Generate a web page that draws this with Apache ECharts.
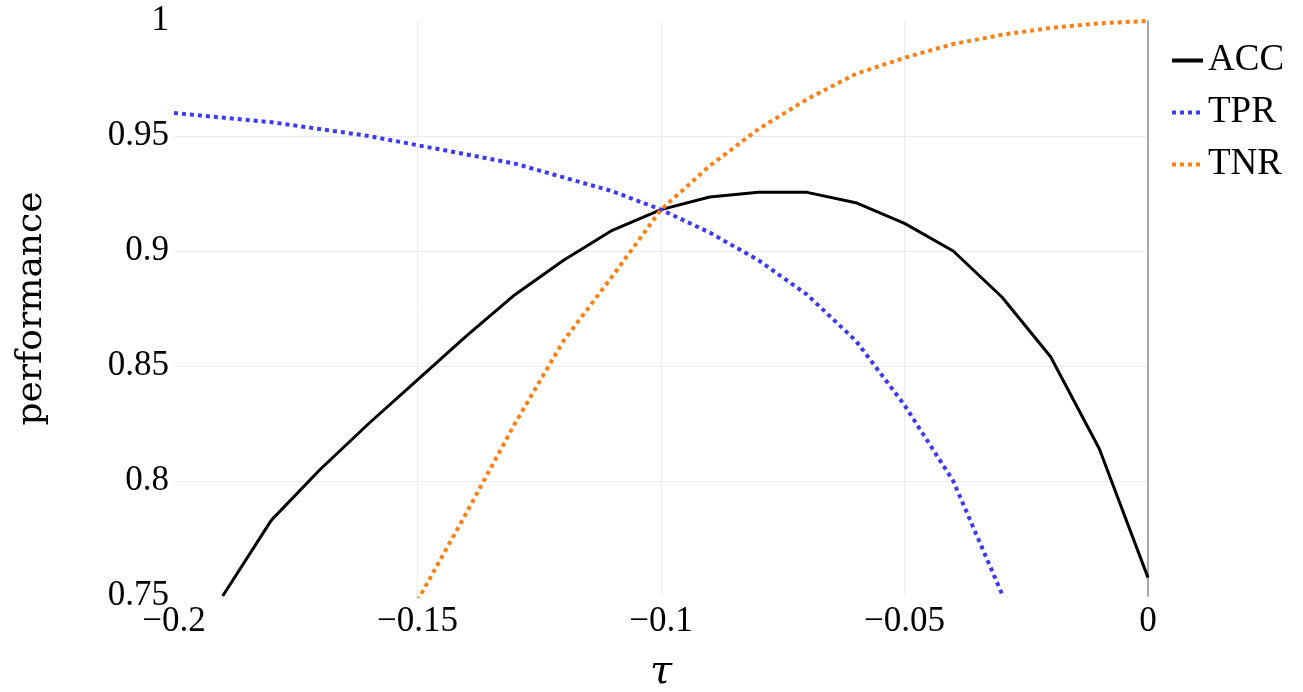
<!DOCTYPE html>
<html>
<head>
<meta charset="utf-8">
<script src="https://cdn.jsdelivr.net/npm/echarts@6/dist/echarts.min.js"></script>
<style>html,body{margin:0;padding:0;background:#fff;}#chart{width:1303px;height:692px;}</style>
</head>
<body>
<div id="chart"></div>
<script>
const taus = [-0.2, -0.19, -0.18, -0.17, -0.16, -0.15, -0.14, -0.13, -0.12, -0.11, -0.1,
              -0.09, -0.08, -0.07, -0.06, -0.05, -0.04, -0.03, -0.02, -0.01, 0];
const accValues = [null, 0.750, 0.783, 0.805, 0.825, 0.844, 0.863, 0.881, 0.896, 0.909, 0.918,
                   0.9235, 0.9255, 0.9255, 0.921, 0.912, 0.900, 0.880, 0.854, 0.814, 0.758];
const tprValues = [0.960, 0.958, 0.956, 0.953, 0.950, 0.946, 0.942, 0.938, 0.932, 0.926, 0.918,
                   0.908, 0.896, 0.881, 0.861, 0.833, 0.800, 0.751, null, null, null];
const tnrValues = [null, null, null, null, null, 0.748, 0.786, 0.825, 0.861, 0.889, 0.918,
                   0.937, 0.953, 0.966, 0.977, 0.984, 0.990, 0.994, 0.997, 0.999, 1.0];
const xTickLabels = ['\u22120.2', '\u22120.15', '\u22120.1', '\u22120.05', '0'];
const yTickLabels = ['0.75', '0.8', '0.85', '0.9', '0.95', '1'];
const seriesNames = ['ACC', 'TPR', 'TNR'];

const pairs = vals => taus.map((t, i) => [t, vals[i]]);

const chart = echarts.init(document.getElementById('chart'));
const serif = '"Liberation Serif", "Times New Roman", serif';
chart.setOption({
  animation: false,
  grid: { left: 174, right: 155, top: 21, bottom: 96, outerBoundsMode: 'none', containLabel: false },
  legend: {
    orient: 'vertical', left: 1165, top: 37, itemWidth: 31, itemHeight: 14, itemGap: 15,
    itemStyle: { opacity: 0 },
    lineStyle: { width: 4 },
    textStyle: { fontFamily: serif, fontSize: 37, color: '#000' },
    data: seriesNames
  },
  xAxis: {
    type: 'value', min: -0.2, max: 0, interval: 0.05,
    name: '\u03c4', nameLocation: 'middle', nameGap: 57,
    nameTextStyle: { fontFamily: '"DejaVu Serif", serif', fontStyle: 'italic', fontSize: 40, color: '#000' },
    axisLine: { show: false }, axisTick: { show: false },
    axisLabel: { fontFamily: serif, fontSize: 35, color: '#000', margin: 8,
      formatter: v => xTickLabels[Math.round((v + 0.2) / 0.05)] },
    splitLine: { show: true, showMinLine: false, showMaxLine: false, lineStyle: { color: '#ececec', width: 1 } }
  },
  yAxis: [{
    type: 'value', min: 0.75, max: 1, interval: 0.05,
    name: 'performance', nameLocation: 'middle', nameGap: 124,
    nameTextStyle: { fontFamily: '"DejaVu Serif", serif', fontSize: 36, color: '#000' },
    axisLine: { show: false }, axisTick: { show: false },
    axisLabel: { fontFamily: serif, fontSize: 35, color: '#000', margin: 5,
      formatter: v => yTickLabels[Math.round((v - 0.75) / 0.05)] },
    splitLine: { show: true, showMinLine: false, showMaxLine: false, lineStyle: { color: '#ececec', width: 1 } }
  }, {
    type: 'value', min: 0.75, max: 1, position: 'right',
    axisLine: { show: true, lineStyle: { color: '#a8a8a8', width: 2 } },
    axisTick: { show: false }, axisLabel: { show: false }, splitLine: { show: false }
  }],
  series: [
    { name: seriesNames[0], type: 'line', data: pairs(accValues), symbol: 'none',
      lineStyle: { color: '#000', width: 3 }, itemStyle: { color: '#000' } },
    { name: seriesNames[1], type: 'line', data: pairs(tprValues), symbol: 'none',
      lineStyle: { color: '#3a3af2', width: 4, type: [4, 4] }, itemStyle: { color: '#3a3af2' } },
    { name: seriesNames[2], type: 'line', data: pairs(tnrValues), symbol: 'none',
      lineStyle: { color: '#ff8012', width: 4, type: [4, 4] }, itemStyle: { color: '#ff8012' } }
  ]
});
</script>
</body>
</html>
